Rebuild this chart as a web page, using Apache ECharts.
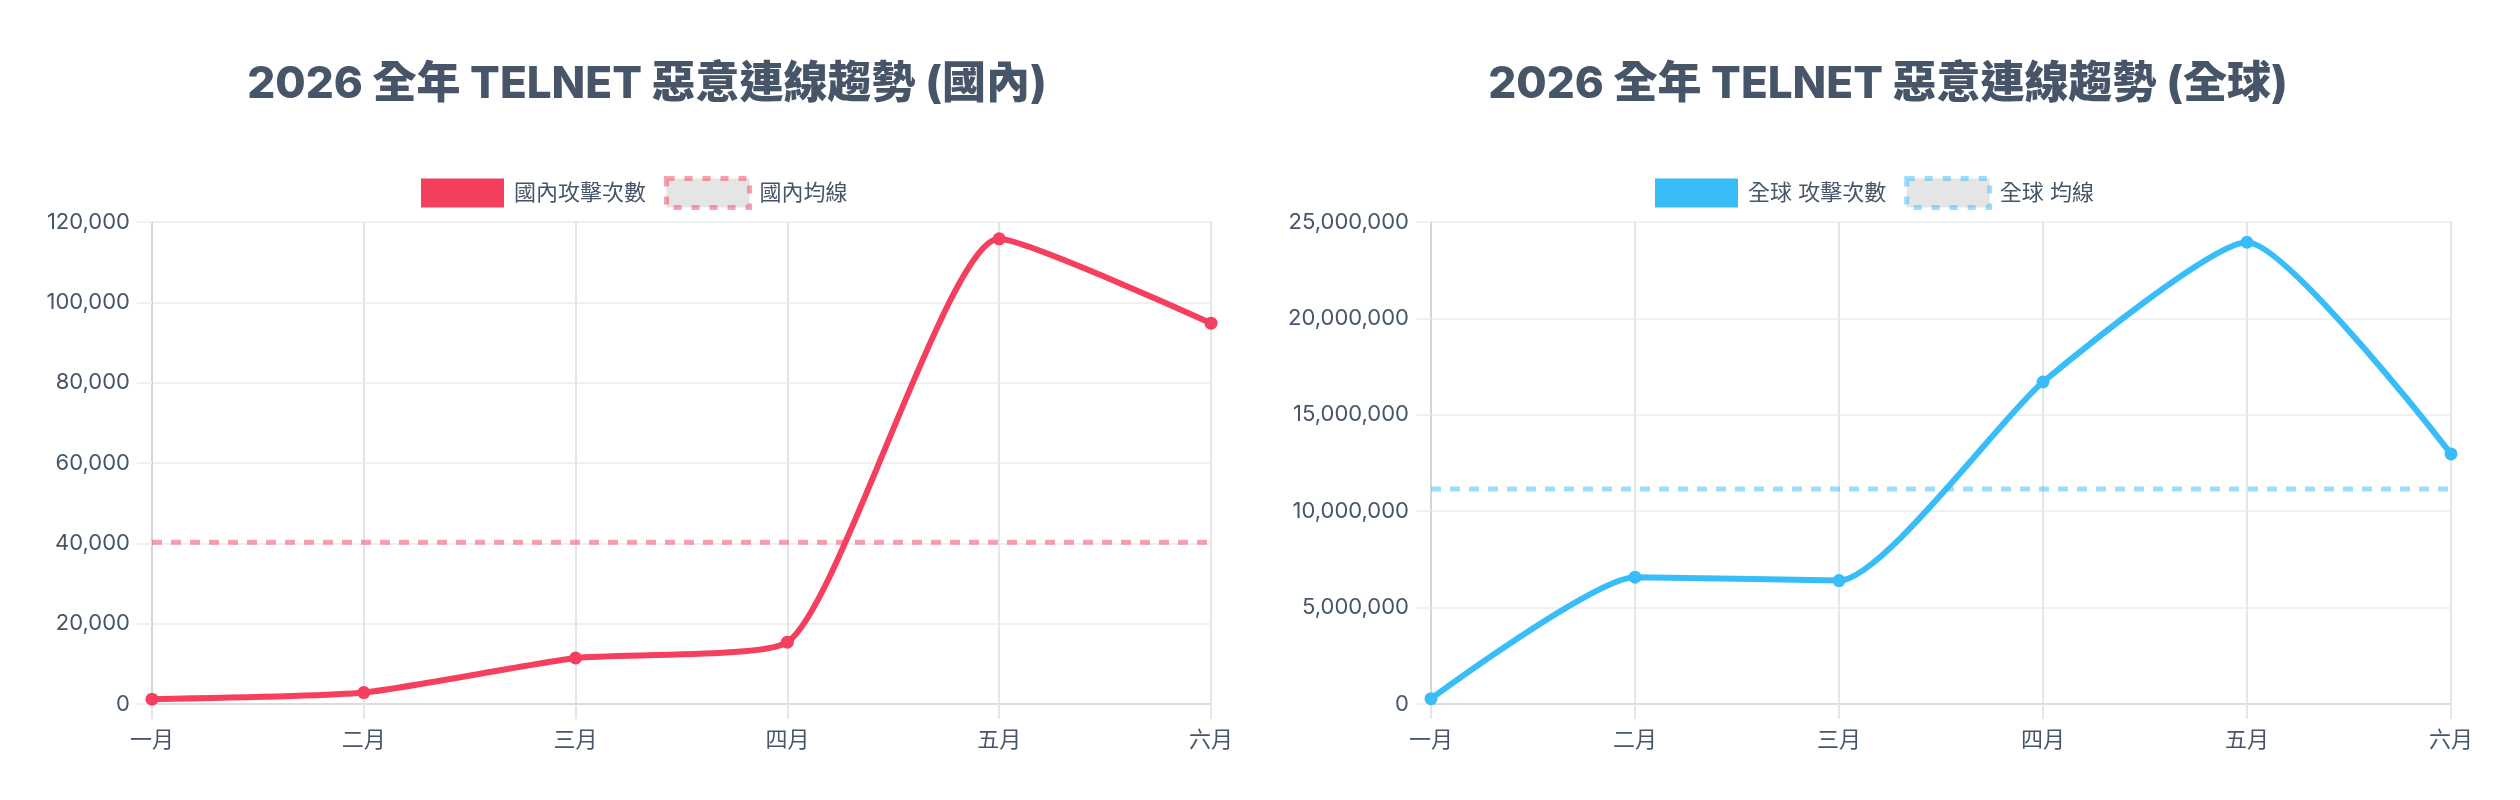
<!DOCTYPE html>
<html>
<head>
<meta charset="utf-8">
<title>2026 全年 TELNET 惡意連線趨勢</title>
<script src="https://cdn.jsdelivr.net/npm/echarts@6/dist/echarts.min.js"></script>
<style>
    html, body { margin: 0; padding: 0; background: #fff; }
    #trendChart { width: 2520px; height: 800px; }
</style>
</head>
<body>
<div id="trendChart"></div>
<script>
// 月份
const months = ['一月', '二月', '三月', '四月', '五月', '六月'];
// 國內攻擊次數
const domesticAttacks = [1200, 2850, 11450, 15400, 115800, 94800];
// 國內均線
const domesticAvg = [40250, 40250, 40250, 40250, 40250, 40250];
// 全球攻擊次數
const globalAttacks = [275000, 6580000, 6400000, 16700000, 23950000, 12970000];
// 全球均線
const globalAvg = [11150000, 11150000, 11150000, 11150000, 11150000, 11150000];
// y 軸刻度
const domesticTicks = {min: 0, max: 120000, interval: 20000};
const globalTicks = {min: 0, max: 25000000, interval: 5000000};

const textColor = '#475569';
const fontFamily = 'Inter, "Noto Sans CJK TC", sans-serif';
const red = '#f43f5e';
const redSoft = 'rgba(244, 63, 94, 0.5)';
const blue = '#38bdf8';
const blueSoft = 'rgba(56, 189, 248, 0.5)';

let trendChart = echarts.init(document.getElementById('trendChart'));

// 建立標題
function makeTitle(text, center) {
    return {
        text: text,
        left: center,
        top: 58,
        textAlign: 'center',
        textStyle: {
            color: textColor,
            fontFamily: fontFamily,
            fontSize: 44,
            fontWeight: 800
        }
    };
}

// 建立圖例
function makeLegend(names, color, soft, left) {
    return {
        left: left,
        top: 176,
        padding: 0,
        itemWidth: 83,
        itemHeight: 29,
        itemGap: 18,
        icon: 'rect',
        textStyle: {
            color: textColor,
            fontFamily: fontFamily,
            fontSize: 22,
            padding: [0, 0, 0, 5]
        },
        data: [
            {name: names[0], itemStyle: {color: color, borderWidth: 0}},
            {name: names[1], itemStyle: {color: '#e5e5e5', borderColor: soft, borderWidth: 5, borderType: [8, 10]}}
        ]
    };
}

// 建立 x 軸
function makeXAxis(gridIndex) {
    return {
        type: 'category',
        gridIndex: gridIndex,
        data: months,
        boundaryGap: false,
        axisLine: {lineStyle: {color: '#dcdcdc', width: 2}},
        axisTick: {show: true, length: 15, lineStyle: {color: '#e6e6e6', width: 2}},
        axisLabel: {color: textColor, fontFamily: fontFamily, fontSize: 22, margin: 25},
        splitLine: {show: true, lineStyle: {color: '#e6e6e6', width: 2}}
    };
}

// 建立 y 軸
function makeYAxis(gridIndex, ticks) {
    return {
        type: 'value',
        gridIndex: gridIndex,
        min: ticks.min,
        max: ticks.max,
        interval: ticks.interval,
        axisLine: {show: true, lineStyle: {color: '#d6d6d6', width: 2}},
        axisTick: {show: true, length: 15, lineStyle: {color: '#f0f0f0', width: 2}},
        axisLabel: {
            color: textColor,
            fontFamily: fontFamily,
            fontSize: 22,
            margin: 22,
            formatter: function (v) {
                return v.toLocaleString('en-US');
            }
        },
        splitLine: {show: true, lineStyle: {color: '#f0f0f0', width: 2}}
    };
}

// 攻擊次數折線
function makeMainSeries(name, data, color, index) {
    return {
        name: name,
        type: 'line',
        xAxisIndex: index,
        yAxisIndex: index,
        data: data,
        smooth: 0.18,
        symbol: 'circle',
        symbolSize: 13,
        itemStyle: {color: color},
        lineStyle: {color: color, width: 6},
        z: 3
    };
}

// 均線
function makeAvgSeries(name, data, color, index) {
    return {
        name: name,
        type: 'line',
        xAxisIndex: index,
        yAxisIndex: index,
        data: data,
        symbol: 'none',
        itemStyle: {color: color},
        lineStyle: {color: color, width: 5, type: [10, 9]},
        z: 2
    };
}

let trendChartOption = {
    backgroundColor: '#ffffff',
    animation: false,
    title: [
        makeTitle('2026 全年 TELNET 惡意連線趨勢 (國內)', 642),
        makeTitle('2026 全年 TELNET 惡意連線趨勢 (全球)', 1883)
    ],
    legend: [
        makeLegend(['國內攻擊次數', '國內均線'], red, redSoft, 421),
        makeLegend(['全球 攻擊次數', '全球 均線'], blue, blueSoft, 1655)
    ],
    grid: [
        {left: 152, right: 1309, top: 222, bottom: 96},
        {left: 1431, right: 69, top: 222, bottom: 96}
    ],
    xAxis: [makeXAxis(0), makeXAxis(1)],
    yAxis: [makeYAxis(0, domesticTicks), makeYAxis(1, globalTicks)],
    series: [
        makeMainSeries('國內攻擊次數', domesticAttacks, red, 0),
        makeAvgSeries('國內均線', domesticAvg, redSoft, 0),
        makeMainSeries('全球 攻擊次數', globalAttacks, blue, 1),
        makeAvgSeries('全球 均線', globalAvg, blueSoft, 1)
    ]
};

trendChart.setOption(trendChartOption);
</script>
</body>
</html>
